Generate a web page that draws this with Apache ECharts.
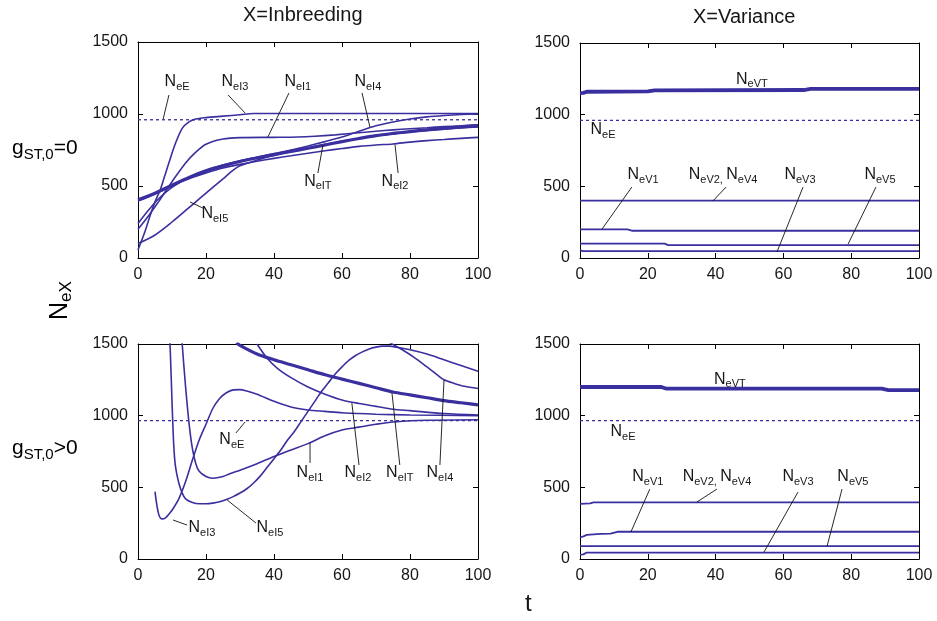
<!DOCTYPE html>
<html><head><meta charset="utf-8">
<script src="https://cdn.jsdelivr.net/npm/echarts@6/dist/echarts.min.js"></script>
<style>html,body{margin:0;padding:0;background:#fff}#c{width:937px;height:621px}</style>
</head><body><div id="c"></div>
<script>
// ---- axis ticks ----
const xTicks = [0, 20, 40, 60, 80, 100];
const yTicks = [0, 500, 1000, 1500];

// ---- Panel 0: g_ST,0 = 0, X = Inbreeding ----
const tl_E  = [[0, 960], [100, 960]];
const tl_IT = [[0,405],[5,450],[10,505],[15,560],[20,605],[25,640],[30,670],[35,695],[40,718],[45,740],[50,762],[55,785],[60,808],[65,830],[70,850],[75,865],[80,878],[85,890],[90,900],[95,910],[100,918]];
const tl_I2 = [[0,395],[5,445],[10,500],[15,550],[20,590],[25,625],[30,650],[35,672],[40,692],[45,710],[50,728],[55,745],[60,760],[65,775],[70,785],[75,792],[80,805],[85,815],[90,823],[95,831],[100,838]];
const tl_I4 = [[0,240],[3,330],[6,410],[10,490],[15,560],[20,610],[25,645],[30,675],[35,700],[40,725],[45,750],[50,778],[55,808],[60,840],[65,880],[70,918],[75,945],[80,965],[85,980],[90,990],[95,997],[100,1000]];
const tl_I1 = [[0,200],[3,290],[6,390],[8,460],[10,530],[14,660],[17,735],[20,790],[25,826],[30,836],[40,838],[47,840],[52,845],[58,855],[65,870],[70,880],[75,890],[80,898],[85,905],[90,912],[95,918],[100,925]];
const tl_I5 = [[0,100],[5,160],[10,250],[15,350],[18,410],[22,490],[25,550],[28,610],[30,640],[35,680],[40,712],[45,740],[50,765],[55,790],[60,810],[65,830],[70,848],[75,862],[80,875],[85,885],[90,895],[95,903],[100,910]];
const tl_I3 = [[0,55],[2,180],[3.5,290],[5,390],[6.5,470],[8,580],[9,655],[11,795],[13,900],[15,945],[17,965],[20,975],[25,985],[30,995],[34,1003],[100,1003]];

// ---- Panel 1: g_ST,0 = 0, X = Variance ----
const tr_E   = [[0, 960], [100, 960]];
const tr_VT  = [[0,1150],[1,1152],[2,1160],[20,1162],[22,1170],[66,1172],[68,1180],[100,1180]];
const tr_V24 = [[0,400],[100,400]];
const tr_V1  = [[0,200],[14,200],[15.5,190],[100,190]];
const tr_V5  = [[0,100],[25,100],[26,90],[100,90]];
const tr_V3  = [[0,55],[0.8,48],[100,48]];

// ---- Panel 2: g_ST,0 > 0, X = Inbreeding ----
const bl_E  = [[0, 965], [100, 965]];
const bl_I3 = [[5,470],[6,320],[7,280],[8,285],[9,310],[10,340],[12,420],[14,540],[16,690],[18,830],[20,940],[22,1050],[24,1120],[26,1160],[28,1180],[30,1182],[32,1172],[35,1150],[40,1100],[45,1060],[50,1040],[55,1030],[60,1020],[70,1010],[80,1005],[100,1000]];
const bl_I5 = [[9,1700],[9.5,1450],[10,1100],[10.5,800],[11,650],[12,530],[13,460],[14,420],[16,395],[18,385],[20,385],[22,390],[24,400],[26,415],[28,435],[30,460],[32,490],[34,530],[36,580],[38,640],[40,700],[42,760],[44,830],[46,890],[48,960],[50,1030],[52,1100],[54,1170],[56,1230],[58,1290],[60,1340],[62,1385],[64,1420],[66,1445],[68,1465],[70,1478],[72,1485],[74,1485],[76,1478],[80,1460],[85,1430],[90,1390],[95,1350],[100,1310]];
const bl_I1 = [[12.5,1700],[13,1500],[14,1200],[15,950],[16,770],[17,665],[18,612],[20,575],[22,563],[25,575],[27,595],[30,620],[35,665],[40,715],[45,760],[50,805],[55,860],[60,900],[65,920],[70,940],[76,958],[85,968],[100,972]];
const bl_I2 = [[35,1500],[38,1400],[41,1330],[45,1265],[50,1200],[55,1150],[60,1110],[65,1085],[70,1065],[75,1045],[80,1035],[90,1015],[100,1005]];
const bl_IT = [[29,1510],[30,1490],[35,1430],[40,1390],[45,1355],[50,1320],[55,1285],[60,1255],[65,1225],[70,1195],[75,1165],[80,1145],[85,1125],[90,1105],[95,1090],[100,1075]];
const bl_I4 = [[74,1510],[77,1470],[81,1410],[85,1340],[88,1285],[90,1250],[93,1225],[96,1205],[100,1190]];

// ---- Panel 3: g_ST,0 > 0, X = Variance ----
const br_E   = [[0, 965], [100, 965]];
const br_VT  = [[0,1200],[24,1200],[25.5,1188],[89,1188],[91,1178],[100,1178]];
const br_V24 = [[0,385],[3,388],[4,395],[100,395]];
const br_V1  = [[0,150],[1,158],[2,168],[4,172],[6,175],[9,177],[11,190],[100,190]];
const br_V5  = [[0,90],[100,90]];
const br_V3  = [[0,30],[1,32],[2,45],[100,45]];

// ---- annotation texts (subscripts) with label / pointer positions in data units ----
const annPanel = [0,0,0,0,0,0,0, 1,1,1,1,1,1, 2,2,2,2,2,2,2, 3,3,3,3,3,3];
const annText  = ['eE','eI3','eI1','eI4','eIT','eI2','eI5',
                  'eVT','eE','eV1','eV2|eV4','eV3','eV5',
                  'eE','eI1','eI2','eIT','eI4','eI3','eI5',
                  'eVT','eE','eV1','eV2|eV4','eV3','eV5'];
const annLabel = [[11.5,1222],[28.5,1222],[47,1222],[67.6,1222],[52.9,528],[75.6,528],[22.6,305],
                  [50.7,1248],[6.8,893],[18.6,579],[42.2,579],[64.9,579],[88.5,579],
                  [27.6,830],[50.6,600],[64.7,600],[77,600],[88.8,600],[18.8,216],[38.8,216],
                  [44.2,1255],[12.7,886],[20,572],[40.4,572],[64.3,572],[80.5,572]];
const annFrom  = [[9.1,1132],[26.5,1132],[44.4,1146],[65.9,1146],[54.4,785],[75.6,785],[15.3,389],
                  null,null,[15.3,495],[43.1,495],[65.8,495],[87.3,495],
                  [31.5,956],[50.6,809],[62.9,1088],[74.7,1158],[90,1249],[10.3,272],[26.2,412],
                  null,null,[20.6,488],[40.4,488],[64.3,467],[77.3,488]];
const annTo    = [[7.4,965],[31.5,1007],[38.2,840],[68.2,910],[52.9,590],[76.5,590],[19.1,347],
                  null,null,[6.5,202],[39.2,398],[58.1,42],[79.1,98],
                  [28.8,879],[50.6,670],[65,656],[77,656],[88.8,656],[14.4,237],[34.7,251],
                  null,null,[15,188],[34.5,398],[54.3,49],[72.9,91]];

const COL = '#3a2f9e';
const TXT = '#161616';
const FONT = 'Liberation Sans, Arial, Helvetica, sans-serif';
const grids = [
  {left:138, top:42, width:340, height:216},
  {left:580, top:43, width:339, height:215},
  {left:138, top:344, width:340, height:215},
  {left:580, top:344, width:339, height:215}
];

const xAxes = [], yAxes = [];
grids.forEach((g, i) => {
  const base = {gridIndex:i, type:'value', splitLine:{show:false},
    axisLine:{show:true, onZero:false, lineStyle:{color:'#000', width:1}},
    axisTick:{show:true, inside:true, length:5, lineStyle:{color:'#000', width:1}}};
  const lab = {color:TXT, fontSize:16, fontFamily:FONT, formatter: v => String(v)};
  xAxes.push(Object.assign({}, base, {position:'bottom', min:xTicks[0], max:xTicks[xTicks.length-1], interval:xTicks[1]-xTicks[0],
    axisLabel:Object.assign({margin:9}, lab)}));
  xAxes.push(Object.assign({}, base, {position:'top', min:xTicks[0], max:xTicks[xTicks.length-1], interval:xTicks[1]-xTicks[0],
    axisLabel:{show:false}}));
  yAxes.push(Object.assign({}, base, {position:'left', min:yTicks[0], max:yTicks[yTicks.length-1], interval:yTicks[1]-yTicks[0],
    axisLabel:Object.assign({margin:10}, lab)}));
  yAxes.push(Object.assign({}, base, {position:'right', min:yTicks[0], max:yTicks[yTicks.length-1], interval:yTicks[1]-yTicks[0],
    axisLabel:{show:false}}));
});

const series = [];
function addLine(panel, data, width, opts) {
  opts = opts || {};
  series.push({type:'line', xAxisIndex:panel*2, yAxisIndex:panel*2, data:data, symbol:'none', showSymbol:false,
    smooth: opts.smooth || false, clip:true, silent:true, z: opts.z || 3,
    lineStyle:{color:COL, width:width, type: opts.dash ? [3,3] : 'solid'}});
}
// panel 0
addLine(0, tl_E, 1.3, {dash:true});
[tl_I2, tl_I4, tl_I1, tl_I5, tl_I3].forEach(d => addLine(0, d, 1.6, {smooth:0.3}));
addLine(0, tl_IT, 3.2, {smooth:0.3});
// panel 1
addLine(1, tr_E, 1.3, {dash:true});
addLine(1, tr_VT, 3.8);
[tr_V24, tr_V1, tr_V5, tr_V3].forEach(d => addLine(1, d, 1.8));
// panel 2
addLine(2, bl_E, 1.3, {dash:true});
[bl_I3, bl_I5, bl_I1, bl_I2, bl_I4].forEach(d => addLine(2, d, 1.6, {smooth:0.3}));
addLine(2, bl_IT, 3.2, {smooth:0.3});
// panel 3
addLine(3, br_E, 1.3, {dash:true});
addLine(3, br_VT, 3.8);
[br_V24, br_V1, br_V5, br_V3].forEach(d => addLine(3, d, 1.8));

// annotations
const rich = {
  n:{fontSize:16, fontFamily:FONT, color:TXT, textBorderWidth:0},
  s:{fontSize:11, fontFamily:FONT, color:TXT, textBorderWidth:0, padding:[9,0,0,0]}
};
function annFmt(txt) {
  return txt.split('|').map(p => '{n|N}{s|' + p + '}').join('{s|,} ');
}
annText.forEach((txt, k) => {
  const p = annPanel[k];
  if (annFrom[k]) {
    series.push({type:'line', xAxisIndex:p*2, yAxisIndex:p*2, data:[annFrom[k], annTo[k]], symbol:'none',
      silent:true, z:5, lineStyle:{color:'#111', width:0.9}});
  }
  series.push({type:'scatter', xAxisIndex:p*2, yAxisIndex:p*2, data:[annLabel[k]], symbolSize:1,
    itemStyle:{color:'rgba(0,0,0,0)', opacity:1}, silent:true, z:6,
    label:{show:true, position:'inside', color:TXT, opacity:1, textBorderWidth:0, textBorderColor:'transparent',
      formatter: annFmt(txt), rich: rich}});
});

const chart = echarts.init(document.getElementById('c'), null, {renderer:'canvas'});
chart.setOption({
  animation:false,
  backgroundColor:'#fff',
  grid: grids,
  xAxis: xAxes,
  yAxis: yAxes,
  series: series,
  graphic: [
    {type:'text', left:243, top:5, style:{text:'X=Inbreeding', fontSize:20, fontFamily:FONT, fill:TXT}},
    {type:'text', left:693, top:7, style:{text:'X=Variance', fontSize:20, fontFamily:FONT, fill:TXT}},
    {type:'text', left:12, top:138, style:{text:'{g|g}{s|ST,0}{g|=0}', fontFamily:FONT,
      rich:{g:{fontSize:21, fontFamily:FONT, color:TXT}, s:{fontSize:15, fontFamily:FONT, color:TXT, padding:[12,0,0,0]}}}},
    {type:'text', left:12, top:438, style:{text:'{g|g}{s|ST,0}{g|>0}', fontFamily:FONT,
      rich:{g:{fontSize:21, fontFamily:FONT, color:TXT}, s:{fontSize:15, fontFamily:FONT, color:TXT, padding:[12,0,0,0]}}}},
    {type:'text', x:46, y:320, rotation:Math.PI/2, style:{text:'{n|N}{s|eX}', fontFamily:FONT,
      rich:{n:{fontSize:25, fontFamily:FONT, color:TXT}, s:{fontSize:17, fontFamily:FONT, color:TXT, padding:[12,0,0,0]}}}},
    {type:'text', left:525, top:592, style:{text:'t', fontSize:24, fontFamily:FONT, fill:TXT}}
  ]
});
</script>
</body></html>
